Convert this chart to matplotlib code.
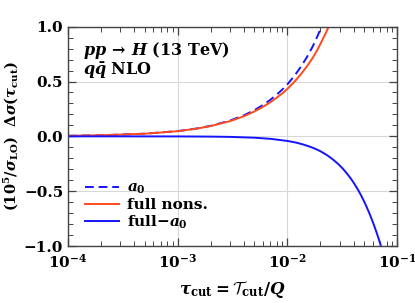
import numpy as np
import matplotlib
matplotlib.use('Agg')
import matplotlib.pyplot as plt
from matplotlib.ticker import LogLocator, MultipleLocator, NullFormatter

plt.rcParams.update({
    'mathtext.fontset': 'custom',
    'mathtext.rm': 'DejaVu Serif:bold',
    'mathtext.it': 'DejaVu Serif:italic:bold',
    'mathtext.bf': 'DejaVu Serif:bold',
    'mathtext.cal': 'cmsy10',
    'font.family': 'DejaVu Serif',
    'font.weight': 'bold',
    'axes.unicode_minus': True,
})

# tau_cut grid for a0 and full nons.
tau_up = [1e-4, 2e-4, 5e-4, 1e-3, 1.5e-3, 2e-3, 3e-3, 4e-3, 5e-3, 6e-3, 7e-3,
          8e-3, 9e-3, 0.010, 0.0115, 0.013, 0.015, 0.017, 0.019, 0.021, 0.023, 0.025]
a0 = [0.005, 0.010, 0.024, 0.048, 0.072, 0.096, 0.144, 0.191, 0.239, 0.287, 0.334,
      0.381, 0.428, 0.475, 0.548, 0.622, 0.720, 0.820, 0.925, 1.035, 1.140, 1.250]
full_nons = [0.005, 0.010, 0.024, 0.047, 0.071, 0.094, 0.139, 0.183, 0.227, 0.270, 0.312,
             0.353, 0.393, 0.433, 0.495, 0.556, 0.636, 0.716, 0.800, 0.887, 0.968, 1.053]

# tau_cut grid for full - a0
tau_dn = [1e-4, 3e-4, 1e-3, 2e-3, 3e-3, 5e-3, 7e-3, 0.010, 0.012, 0.014, 0.016, 0.018,
          0.020, 0.023, 0.026, 0.029, 0.032, 0.035, 0.038, 0.041, 0.044, 0.047,
          0.050, 0.053, 0.056, 0.059, 0.062, 0.065, 0.068, 0.071, 0.074]
full_minus_a0 = [0.0, -0.0001, -0.0007, -0.0024, -0.005, -0.0125, -0.0225, -0.042,
                 -0.057, -0.075, -0.094, -0.114, -0.136, -0.172, -0.211, -0.252,
                 -0.295, -0.341, -0.388, -0.437, -0.488, -0.540, -0.594, -0.649,
                 -0.705, -0.762, -0.820, -0.878, -0.937, -0.998, -1.058]

fig = plt.figure(figsize=(4.15, 3.03), dpi=100)
ax = fig.add_axes([0.164, 0.188, 0.793, 0.724])

ax.plot(tau_up, a0, color='#1414ff', lw=1.4, ls=(0, (4.5, 2.5)), label=r'$a_0$')
ax.plot(tau_up, full_nons, color='#ff4a1c', lw=1.4, label='full nons.')
ax.plot(tau_dn, full_minus_a0, color='#1414ff', lw=1.4, label=r'full$-a_0$')

ax.set_xscale('log')
ax.set_xlim(1e-4, 1e-1)
ax.set_ylim(-1.0, 1.0)
ax.yaxis.set_major_locator(MultipleLocator(0.5))
ax.yaxis.set_minor_locator(MultipleLocator(0.1))
ax.xaxis.set_major_locator(LogLocator(base=10, numticks=10))
ax.xaxis.set_minor_locator(LogLocator(base=10, subs=np.arange(2, 10), numticks=10))
ax.xaxis.set_minor_formatter(NullFormatter())
ax.yaxis.set_major_formatter(plt.FuncFormatter(lambda v, p: f'{v:.1f}'.replace('-', '\u2212')))

ax.grid(True, which='major', color='#d8d8d8', lw=0.8)
ax.tick_params(which='both', direction='in', top=True, right=True, colors='#444444',
               labelcolor='black', labelsize=11)
ax.tick_params(which='major', length=6, width=0.9)
ax.tick_params(which='minor', length=3.5, width=0.7)
ax.tick_params(axis='x', pad=5)
for s in ax.spines.values():
    s.set_color('#444444')
    s.set_linewidth(1.0)

ax.text(0.045, 0.89, r'$pp\,\rightarrow\,H$ (13 TeV)', transform=ax.transAxes,
        fontsize=11.5, va='center')
ax.text(0.045, 0.80, r'$q\bar{q}$ NLO', transform=ax.transAxes,
        fontsize=11.5, va='center')

ax.set_xlabel(r'$\tau_{\rm cut} = \mathcal{T}_{\rm cut}/Q$', fontsize=12, labelpad=6)
ax.set_ylabel(r'$(10^5/\sigma_{\rm LO})\ \ \Delta\sigma(\tau_{\rm cut})$', fontsize=10.5, labelpad=2)

ax.legend(loc='lower left', frameon=False, fontsize=11, handlelength=2.2,
          handletextpad=0.5, labelspacing=0.1, borderaxespad=0.3,
          bbox_to_anchor=(0.02, 0.02))

fig.savefig('out.png', dpi=100)
